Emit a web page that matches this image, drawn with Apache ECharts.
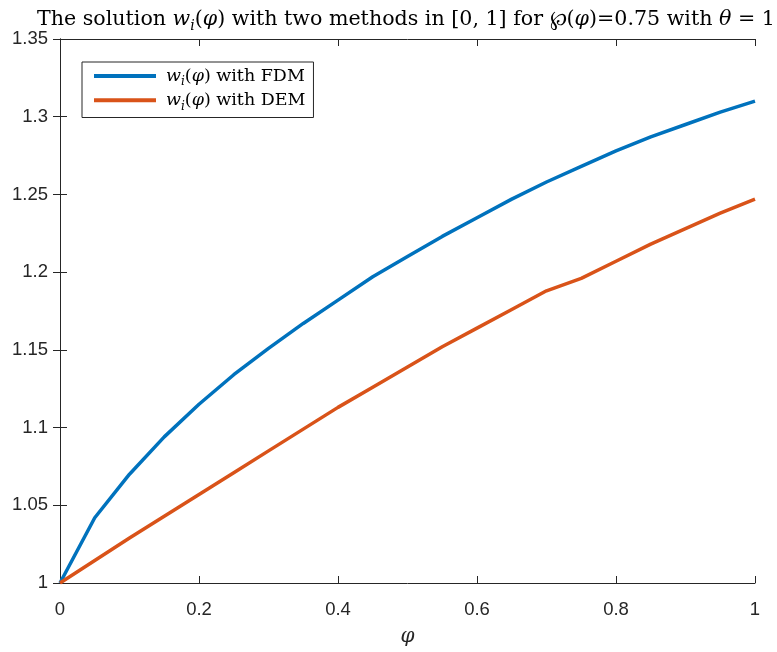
<!DOCTYPE html>
<html>
<head>
<meta charset="utf-8">
<script src="https://cdn.jsdelivr.net/npm/echarts@6/dist/echarts.min.js"></script>
<style>html,body{margin:0;padding:0;background:#fff;}#c{width:777px;height:652px;}</style>
</head>
<body>
<div id="c"></div>
<script>
const xVals = [0, 0.05, 0.1, 0.15, 0.2, 0.25, 0.3, 0.35, 0.4, 0.45, 0.5, 0.55, 0.6, 0.65, 0.7, 0.75, 0.8, 0.85, 0.9, 0.95, 1];
const fdmVals = [1.0, 1.042, 1.070, 1.094, 1.115, 1.134, 1.151, 1.167, 1.182, 1.197, 1.210, 1.223, 1.235, 1.247, 1.258, 1.268, 1.278, 1.287, 1.295, 1.303, 1.310];
const demVals = [1.0, 1.0145, 1.029, 1.043, 1.057, 1.071, 1.085, 1.099, 1.113, 1.126, 1.139, 1.152, 1.164, 1.176, 1.188, 1.196, 1.207, 1.218, 1.228, 1.238, 1.247];
const xTicks = [0, 0.2, 0.4, 0.6, 0.8, 1];
const yTicks = [1, 1.05, 1.1, 1.15, 1.2, 1.25, 1.3, 1.35];
const seriesNames = ['FDM', 'DEM'];

const serif = '"DejaVu Serif", "Liberation Serif", serif';
const sans = '"Liberation Sans", Arial, sans-serif';
const axisColor = '#262626';

const chart = echarts.init(document.getElementById('c'));
const mk = (vals) => xVals.map((x, i) => [x, vals[i]]);

const richStyles = (size, subDrop) => ({
  n: {fontFamily: serif, fontSize: size, fontWeight: 'normal', color: '#000', verticalAlign: 'middle', lineHeight: size + 4},
  i: {fontFamily: serif, fontSize: size, fontWeight: 'normal', fontStyle: 'italic', color: '#000', verticalAlign: 'middle', lineHeight: size + 4},
  f: {fontFamily: serif, fontSize: size, fontWeight: 'normal', fontStyle: 'italic', color: '#000', verticalAlign: 'middle', lineHeight: size + 4, padding: [0, 0, 0, 5]},
  s: {fontFamily: serif, fontSize: Math.round(size * 0.7), fontWeight: 'normal', fontStyle: 'italic', color: '#000', verticalAlign: 'bottom', lineHeight: size + 4 + subDrop}
});

chart.setOption({
  animation: false,
  backgroundColor: '#fff',
  title: {
    text: '{n|The solution }{i|w}{s|i}{n|(}{i|φ}{n|) with two methods in [0, 1] for ℘(}{i|φ}{n|)=0.75 with }{i|θ}{n| = 1}',
    left: 32,
    top: 0,
    textStyle: {fontWeight: 'normal', rich: richStyles(20.6, 4)}
  },
  grid: {left: 60, right: 22, top: 39, bottom: 64, containLabel: false},
  legend: {
    orient: 'vertical',
    left: 82,
    top: 62,
    padding: [5, 8, 5, 12],
    itemGap: 3,
    itemWidth: 62,
    itemHeight: 4,
    icon: 'rect',
    backgroundColor: '#fff',
    borderColor: axisColor,
    borderWidth: 1,
    data: seriesNames,
    formatter: (name) => '{f|w}{s|i}{n|(}{i|φ}{n|) with ' + name + '}',
    textStyle: {rich: richStyles(17.5, 3)}
  },
  xAxis: [
    {
      type: 'value', min: 0, max: 1, interval: 0.2, position: 'bottom',
      name: 'φ', nameLocation: 'middle', nameGap: 44,
      nameTextStyle: {fontFamily: serif, fontStyle: 'italic', fontSize: 20, color: '#262626'},
      axisLine: {show: true, lineStyle: {color: axisColor, width: 1}},
      axisTick: {show: true, inside: true, length: 7, lineStyle: {color: axisColor}},
      axisLabel: {fontFamily: sans, fontSize: 18.5, color: '#262626', margin: 17,
        formatter: (v) => String(parseFloat(v.toFixed(2)))},
      splitLine: {show: false}
    },
    {
      type: 'value', min: 0, max: 1, interval: 0.2, position: 'top',
      axisLine: {show: true, lineStyle: {color: axisColor, width: 1}},
      axisTick: {show: true, inside: true, length: 7, lineStyle: {color: axisColor}},
      axisLabel: {show: false},
      splitLine: {show: false}
    }
  ],
  yAxis: [
    {
      type: 'value', min: 1, max: 1.35, interval: 0.05, position: 'left',
      axisLine: {show: true, lineStyle: {color: axisColor, width: 1}},
      axisTick: {show: true, inside: true, length: 7, lineStyle: {color: axisColor}},
      axisLabel: {fontFamily: sans, fontSize: 18.5, color: '#262626', margin: 12,
        formatter: (v) => String(parseFloat(v.toFixed(2)))},
      splitLine: {show: false}
    },
    {
      type: 'value', min: 1, max: 1.35, interval: 0.05, position: 'right',
      axisLine: {show: true, lineStyle: {color: axisColor, width: 1}},
      axisTick: {show: true, inside: true, length: 7, lineStyle: {color: axisColor}},
      axisLabel: {show: false},
      splitLine: {show: false}
    }
  ],
  series: [
    {
      name: seriesNames[0], type: 'line', data: mk(fdmVals), showSymbol: false, symbol: 'none',
      lineStyle: {color: '#0072BD', width: 3.5}, itemStyle: {color: '#0072BD'}, z: 3
    },
    {
      name: seriesNames[1], type: 'line', data: mk(demVals), showSymbol: false, symbol: 'none',
      lineStyle: {color: '#D95319', width: 3.5}, itemStyle: {color: '#D95319'}, z: 3
    }
  ]
});
</script>
</body>
</html>
